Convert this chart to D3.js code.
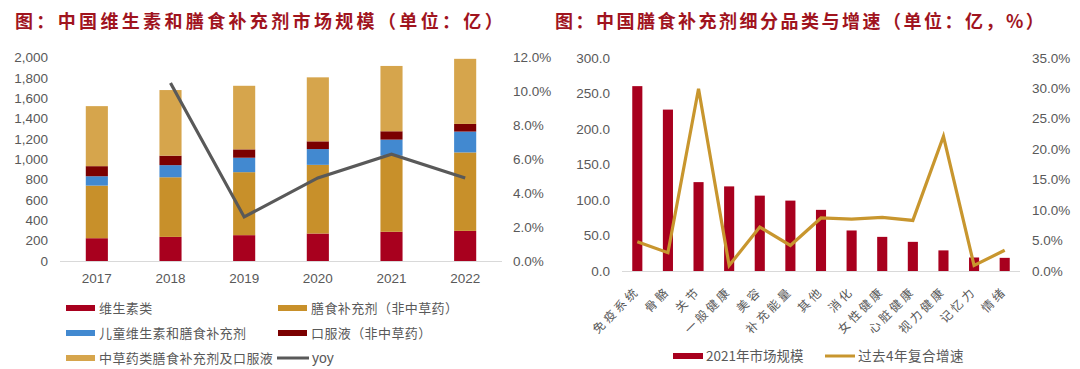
<!DOCTYPE html>
<html><head><meta charset="utf-8">
<script src="https://cdn.jsdelivr.net/npm/d3@7"></script>
<style>
body{margin:0;background:#fff;}
svg{display:block;}
.num{font-family:"Liberation Sans",Arial,sans-serif;font-size:13.5px;fill:#595959;}
.cjk{font-family:"Noto Sans CJK SC",sans-serif;fill:#595959;}
.title{font-family:"Noto Sans CJK SC",sans-serif;font-weight:700;font-size:18px;fill:#a0141e;}
</style></head>
<body>
<svg id="c" width="1080" height="369"></svg>
<script>
// ---------- Left chart data ----------
const years = ["2017","2018","2019","2020","2021","2022"];
const vitamin = [224, 237, 254, 270, 287, 296];
const dietary = [517, 586, 619, 675, 748, 771];
const kids = [92, 119, 142, 155, 158, 205];
const oral = [99, 93, 82, 76, 82, 75];
const herbal = [590, 645, 625, 629, 642, 640];
const yoy = [null, 10.5, 2.6, 4.9, 6.3, 4.9];
const leftTicks = [0,200,400,600,800,1000,1200,1400,1600,1800,2000];
const leftPctTicks = [0,2,4,6,8,10,12];
const seriesNames = ["维生素类","膳食补充剂（非中草药）","儿童维生素和膳食补充剂","口服液（非中草药）","中草药类膳食补充剂及口服液","yoy"];

// ---------- Right chart data ----------
const segments = ["免疫系统","骨骼","关节","一般健康","美容","补充能量","其他","消化","女性健康","心脏健康","视力健康","记忆力","情绪"];
const market2021 = [260, 227, 125, 119, 106, 99, 86, 57, 48, 41, 29, 19, 18.5];
const cagr4y = [4.8, 3.0, 29.9, 0.9, 7.2, 4.2, 8.7, 8.5, 8.8, 8.3, 22.1, 0.9, 3.4];
const rightTicks = [0,50,100,150,200,250,300];
const rightPctTicks = [0,5,10,15,20,25,30,35];
const rightNames = ["2021年市场规模","过去4年复合增速"];

const svg = d3.select("#c");
const colors = ["#a8001e","#c8902a","#4289d0","#7b0000","#d6a54c"];
const yoyColor = "#595959";
const barRed = "#a8001e";
const lineGold = "#c8962e";
const axisGray = "#d9d9d9";

// Titles
svg.append("text").attr("class","title").attr("x",15).attr("y",28).style("letter-spacing","3.35px").text("图：中国维生素和膳食补充剂市场规模（单位：亿）");
svg.append("text").attr("class","title").attr("x",555).attr("y",28).style("letter-spacing","2.5px").text("图：中国膳食补充剂细分品类与增速（单位：亿，%）");

// ===== Left chart =====
const x1 = d3.scaleBand().domain(years).range([60,502]).paddingInner(0.7).paddingOuter(0.35);
const y1 = d3.scaleLinear().domain([0,2000]).range([261,57.5]);
const y1r = d3.scaleLinear().domain([0,12]).range([261,57.5]);

const stackData = years.map((yr,i)=>({year:yr, a:vitamin[i], b:dietary[i], c:kids[i], d:oral[i], e:herbal[i]}));
const stack = d3.stack().keys(["a","b","c","d","e"])(stackData);
const g1 = svg.append("g");
stack.forEach((layer,li)=>{
  g1.selectAll(null).data(layer).enter().append("rect")
    .attr("x",d=>x1(d.data.year)).attr("width",x1.bandwidth())
    .attr("y",d=>y1(d[1])).attr("height",d=>y1(d[0])-y1(d[1]))
    .attr("fill",colors[li]);
});
g1.append("line").attr("x1",60).attr("x2",502).attr("y1",y1(0)+0.5).attr("y2",y1(0)+0.5).attr("stroke",axisGray);

const lineL = d3.line().defined(d=>d!=null).x((d,i)=>x1(years[i])+x1.bandwidth()/2).y(d=>y1r(d));
g1.append("path").datum(yoy).attr("d",lineL).attr("fill","none").attr("stroke",yoyColor).attr("stroke-width",3.2);

const axL = svg.append("g").attr("transform","translate(48,0)").call(d3.axisLeft(y1).tickValues(leftTicks).tickSize(0).tickPadding(0).tickFormat(d3.format(",")));
axL.select(".domain").remove();
axL.selectAll("text").attr("class","num").attr("font-size",null).attr("font-family",null).attr("fill",null);
const axLR = svg.append("g").attr("transform","translate(513,0)").call(d3.axisRight(y1r).tickValues(leftPctTicks).tickSize(0).tickPadding(0).tickFormat(d=>d.toFixed(1)+"%"));
axLR.select(".domain").remove();
axLR.selectAll("text").attr("class","num").attr("font-size",null).attr("font-family",null).attr("fill",null);
const axLB = svg.append("g").attr("transform","translate(0,"+y1(0)+")").call(d3.axisBottom(x1).tickSize(0).tickPadding(12));
axLB.select(".domain").remove();
axLB.selectAll("text").attr("class","num").attr("font-size",null).attr("font-family",null).attr("fill",null);

// Left legend
const legPos = [[66,308],[278,308],[66,333],[278,333],[66,358],[277,358]];
const legColors = [colors[0],colors[1],colors[2],colors[3],colors[4],yoyColor];
seriesNames.forEach((n,i)=>{
  const [lx,ly] = legPos[i];
  if(i<5){
    svg.append("rect").attr("x",lx).attr("y",ly-3).attr("width",29).attr("height",6).attr("fill",legColors[i]);
  } else {
    svg.append("line").attr("x1",lx).attr("x2",lx+32).attr("y1",ly).attr("y2",ly).attr("stroke",yoyColor).attr("stroke-width",3);
  }
  const t = svg.append("text").attr("x",lx+(i<5?33:35)).attr("y",ly+4.5).text(n);
  if(n==="yoy") t.attr("class","num").style("font-size","14px");
  else t.attr("class","cjk").style("font-size","13px").style("letter-spacing","0.4px");
});

// ===== Right chart =====
const x2 = d3.scaleBand().domain(segments).range([622,1020]).paddingInner(0.67).paddingOuter(0.335);
const y2 = d3.scaleLinear().domain([0,300]).range([271,57.7]);
const y2r = d3.scaleLinear().domain([0,35]).range([271,57.7]);
const g2 = svg.append("g");
g2.selectAll(null).data(market2021).enter().append("rect")
  .attr("x",(d,i)=>x2(segments[i])).attr("width",x2.bandwidth())
  .attr("y",d=>y2(d)).attr("height",d=>y2(0)-y2(d)).attr("fill",barRed);
g2.append("line").attr("x1",622).attr("x2",1020).attr("y1",y2(0)+0.5).attr("y2",y2(0)+0.5).attr("stroke",axisGray);
const lineR = d3.line().x((d,i)=>x2(segments[i])+x2.bandwidth()/2).y(d=>y2r(d));
g2.append("path").datum(cagr4y).attr("d",lineR).attr("fill","none").attr("stroke",lineGold).attr("stroke-width",3.2);

const axR = svg.append("g").attr("transform","translate(610,0)").call(d3.axisLeft(y2).tickValues(rightTicks).tickSize(0).tickPadding(0).tickFormat(d=>d.toFixed(1)));
axR.select(".domain").remove();
axR.selectAll("text").attr("class","num").attr("font-size",null).attr("font-family",null).attr("fill",null);
const axRR = svg.append("g").attr("transform","translate(1032,0)").call(d3.axisRight(y2r).tickValues(rightPctTicks).tickSize(0).tickPadding(0).tickFormat(d=>d.toFixed(1)+"%"));
axRR.select(".domain").remove();
axRR.selectAll("text").attr("class","num").attr("font-size",null).attr("font-family",null).attr("fill",null);

// rotated category labels
svg.append("g").selectAll("text").data(segments).enter().append("text")
  .attr("class","cjk")
  .style("font-size","12px").style("letter-spacing","3px")
  .attr("text-anchor","end")
  .attr("transform",d=>"translate("+(x2(d)+x2.bandwidth()/2+3)+","+(y2(0)+21)+") rotate(-45)")
  .text(d=>d);

// Right legend
svg.append("rect").attr("x",673).attr("y",353).attr("width",30).attr("height",6).attr("fill",barRed);
svg.append("text").attr("x",706).attr("y",360.5).text(rightNames[0]).attr("class","cjk").style("font-size","13.5px");
svg.append("line").attr("x1",825).attr("x2",855).attr("y1",356).attr("y2",356).attr("stroke",lineGold).attr("stroke-width",3);
svg.append("text").attr("x",858).attr("y",360.5).text(rightNames[1]).attr("class","cjk").style("font-size","13.5px").style("letter-spacing","0.5px");
</script>
</body></html>
